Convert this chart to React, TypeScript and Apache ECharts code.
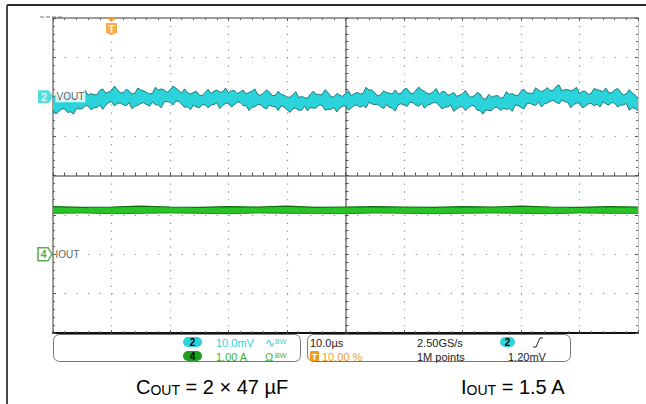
import React, { useEffect, useRef } from "react";
import * as echarts from "echarts";

// ---- Acquisition settings ----
const X_MIN_US = -10;
const X_MAX_US = 90;
const US_PER_DIV = 10;
const MV_PER_DIV = 10;
const A_PER_DIV = 1;
const Y_HALF_DIVS = 4;
const X_HALF_DIVS = 5;
const CH2_OFFSET_DIV = 2;
const CH4_OFFSET_DIV = -2;
const TRIGGER_US = 0;

// ---- VOUT (ch2) noise envelope, mV relative to ch2 ground marker, sampled every 0.5 µs from -10 µs ----
const V_START_US = -10;
const V_STEP_US = 0.5;
const voutUpperMv = [
  -0.1, 0.3, -0.6, -0.7, 0.2, 0.9, -0.3, -0.3, -0.5, -0.3,
  0.5, 1.6, 0.4, 0.8, 0.5, 0.5, 1.6, 2.0, 0.9, 1.2,
  1.5, 2.7, 1.8, 1.0, 1.0, 1.9, 1.5, 0.7, 0.9, 2.2,
  1.7, 1.5, 1.1, 0.7, 0.9, 2.4, 1.7, 2.0, 1.7, 1.1,
  1.7, 2.7, 2.2, 1.6, 0.9, 2.0, 1.0, 0.7, 1.1, 1.4,
  0.4, 0.3, 1.1, 1.9, 0.8, 1.4, 1.7, 1.2, 1.2, 2.2,
  1.0, 1.6, 1.6, 0.8, 1.2, 1.7, 0.7, 1.1, 1.4, 2.0,
  0.5, 0.4, 1.0, 1.7, 1.2, 0.3, 0.3, 1.4, 0.6, 0.4,
  -0.1, -0.1, 0.5, 1.3, -0.2, 0.1, -0.2, -0.4, 0.7, 1.4,
  0.6, 0.6, 0.5, 1.8, 1.1, 0.1, -0.1, 0.8, 0.4, 0.1,
  0.8, 1.5, 0.3, 0.8, 1.1, 0.7, 0.8, 2.4, 1.7, 1.7,
  1.0, 0.2, 0.5, 1.5, 1.1, 0.9, 0.7, 1.7, 0.7, 0.9,
  1.9, 2.1, 1.0, 0.8, 1.5, 2.5, 1.7, 1.4, 0.8, 0.8,
  1.3, 2.1, 0.6, 1.3, 1.3, 0.4, 0.6, 1.1, 0.1, 0.4,
  0.7, 1.6, 0.4, -0.1, 0.2, 1.1, 0.7, -0.5, -0.6, 0.6,
  -0.1, 0.2, 0.3, -0.3, -0.2, 1.3, 0.6, 0.8, 0.4, 0.3,
  1.4, 1.9, 1.0, 0.9, 0.8, 2.3, 1.7, 1.3, 1.7, 2.3,
  1.6, 1.6, 2.6, 3.0, 1.5, 1.8, 1.8, 1.5, 1.8, 2.4,
  0.8, 1.4, 1.4, 0.6, 0.9, 2.1, 1.8, 1.6, 1.3, 2.2,
  1.0, 1.0, 1.7, 2.1, 1.2, 0.5, 0.7, 1.8, 1.0, 0.4,
  -0.4,
];
const voutLowerMv = [
  -3.4, -4.4, -3.7, -3.1, -3.1, -4.0, -3.8, -4.4, -3.0, -3.1,
  -3.0, -2.3, -2.3, -3.3, -2.8, -2.7, -2.1, -3.2, -2.1, -1.5,
  -1.2, -2.3, -1.7, -1.6, -2.0, -2.3, -1.5, -3.0, -2.4, -2.2,
  -1.7, -1.5, -2.0, -2.4, -1.4, -2.0, -2.1, -2.8, -1.3, -1.2,
  -1.4, -2.1, -1.1, -1.2, -1.9, -2.7, -2.5, -3.3, -2.1, -2.6,
  -2.8, -2.0, -2.0, -2.8, -2.1, -2.0, -1.5, -3.0, -2.2, -1.7,
  -1.6, -2.6, -2.0, -1.4, -1.4, -2.3, -2.2, -3.5, -2.7, -2.5,
  -2.0, -2.0, -2.7, -3.1, -2.1, -2.5, -2.5, -3.5, -2.3, -2.6,
  -3.3, -4.0, -3.0, -2.9, -3.4, -3.4, -2.4, -3.6, -2.7, -2.9,
  -2.8, -2.1, -2.1, -3.4, -3.2, -3.2, -2.7, -3.9, -2.9, -2.4,
  -2.3, -3.4, -2.8, -2.2, -2.1, -2.7, -2.2, -2.8, -1.4, -1.8,
  -2.0, -1.9, -2.5, -3.0, -2.0, -2.7, -2.9, -3.6, -2.0, -1.8,
  -2.0, -2.5, -1.4, -1.5, -2.1, -2.4, -1.7, -2.9, -2.1, -1.9,
  -1.5, -1.5, -2.2, -3.1, -2.6, -2.6, -2.1, -3.7, -3.1, -2.6,
  -2.5, -3.5, -2.8, -2.3, -2.3, -3.4, -3.5, -4.4, -3.3, -3.5,
  -3.5, -2.7, -2.7, -3.5, -2.9, -3.2, -3.0, -3.7, -2.1, -2.2,
  -2.7, -3.1, -1.8, -1.6, -2.0, -2.2, -1.3, -2.6, -1.8, -1.6,
  -1.2, -0.9, -1.4, -1.8, -0.8, -1.3, -1.4, -2.8, -2.0, -1.6,
  -1.6, -2.8, -2.4, -1.8, -1.7, -2.3, -1.9, -2.6, -1.3, -1.8,
  -2.1, -1.5, -1.6, -2.6, -2.1, -2.1, -1.7, -3.4, -2.8, -3.0,
  -3.5,
];

// ---- IOUT (ch4) envelope, A relative to ch4 ground marker, sampled every 5 µs from -10 µs ----
const I_START_US = -10;
const I_STEP_US = 5;
const ioutUpperA = [1.21, 1.19, 1.2, 1.22, 1.2, 1.19, 1.21, 1.2, 1.22, 1.19, 1.2, 1.21, 1.2, 1.19, 1.21, 1.2, 1.22, 1.2, 1.19, 1.21, 1.2];
const ioutLowerA = [1.04, 1.05, 1.03, 1.04, 1.05, 1.04, 1.03, 1.05, 1.04, 1.04, 1.03, 1.05, 1.04, 1.03, 1.04, 1.05, 1.04, 1.03, 1.05, 1.04, 1.04];

// ---- Readout texts ----
const ch2Label = "VOUT";
const ch4Label = "IOUT";
const ch2Scale = "10.0mV";
const ch4Scale = "1.00 A";
const timebase = "10.0µs";
const triggerPos = "10.00 %";
const sampleRate = "2.50GS/s";
const recordLength = "1M points";
const triggerLevel = "1.20mV";
const captionLeft = ["C", "OUT", " = 2 × 47 µF"];
const captionRight = ["I", "OUT", " = 1.5 A"];

const FONT = "'Liberation Sans', Arial, sans-serif";
const CYAN = "#2bd4da";
const CYAN_DARK = "#0f6d72";
const GREEN = "#27c427";
const GREEN_DARK = "#0f6a0f";
const ORANGE = "#f39c1f";

function bandSeries(name: string, xs: number[], up: number[], lo: number[], fill: string): any {
  return {
    name,
    type: "custom",
    xAxisIndex: 0,
    yAxisIndex: 0,
    silent: true,
    z: 3,
    data: xs.map((t, i) => [t, up[i], lo[i]]),
    encode: { x: 0, y: [1, 2] },
    renderItem: (params: any, api: any) => {
      if (params.dataIndex !== 0) return null;
      const top = xs.map((t, i) => api.coord([t, up[i]]));
      const bottom = xs.map((t, i) => api.coord([t, lo[i]])).reverse();
      return {
        type: "polygon",
        shape: { points: top.concat(bottom) },
        style: { fill, stroke: "none" },
      };
    },
  };
}

function edgeSeries(name: string, xs: number[], ys: number[], color: string, width: number): any {
  return {
    name,
    type: "line",
    xAxisIndex: 0,
    yAxisIndex: 0,
    data: xs.map((t, i) => [t, ys[i]]),
    symbol: "none",
    silent: true,
    z: 4,
    lineStyle: { color, width },
  };
}

function buildOption(): any {
  const vx = voutUpperMv.map((_, i) => V_START_US + i * V_STEP_US);
  const vUp = voutUpperMv.map((v) => CH2_OFFSET_DIV + v / MV_PER_DIV);
  const vLo = voutLowerMv.map((v) => CH2_OFFSET_DIV + v / MV_PER_DIV);
  const ix = ioutUpperA.map((_, i) => I_START_US + i * I_STEP_US);
  const iUp = ioutUpperA.map((v) => CH4_OFFSET_DIV + v / A_PER_DIV);
  const iLo = ioutLowerA.map((v) => CH4_OFFSET_DIV + v / A_PER_DIV);

  const edgeTick = { show: true, inside: true, length: 3, lineStyle: { color: "#555", width: 1 } };
  const edgeMinor = { show: true, splitNumber: 5, length: 2, lineStyle: { color: "#666", width: 1 } };

  const txt = (x: number, y: number, text: string, fill: string, extra: any = {}) => ({
    type: "text",
    x,
    y,
    z: 20,
    style: { text, fill, font: `11px ${FONT}`, align: "left", verticalAlign: "middle", ...extra },
  });
  const pill = (x: number, y: number, w: number, label: string, fill: string): any[] => [
    { type: "rect", z: 20, shape: { x, y, width: w, height: 10, r: 5 }, style: { fill } },
    {
      type: "text",
      z: 21,
      x: x + w / 2,
      y: y + 5.5,
      style: { text: label, fill: "#000", font: `bold 10px ${FONT}`, align: "center", verticalAlign: "middle" },
    },
  ];
  const caption = (x: number, parts: string[]) => ({
    type: "text",
    x,
    y: 386,
    z: 20,
    style: {
      text: `{m|${parts[0]}}{s|${parts[1]}}{m|${parts[2]}}`,
      align: "left",
      verticalAlign: "middle",
      rich: {
        m: { fontSize: 20, fontFamily: FONT, fill: "#000", lineHeight: 22, verticalAlign: "bottom" },
        s: { fontSize: 14, fontFamily: FONT, fill: "#000", lineHeight: 16, verticalAlign: "bottom" },
      },
    },
  });

  return {
    animation: false,
    backgroundColor: "#fff",
    grid: { left: 53, top: 18, width: 585, height: 315, show: false },
    xAxis: [
      {
        type: "value",
        min: X_MIN_US,
        max: X_MAX_US,
        interval: US_PER_DIV,
        position: "bottom",
        axisLine: { show: true, onZero: false, lineStyle: { color: "#111", width: 2 } },
        axisTick: edgeTick,
        minorTick: edgeMinor,
        axisLabel: { show: false },
        splitLine: { show: true, lineStyle: { color: "#8c8c8c", width: 1.2, type: [1.2, 6.675] } },
      },
      {
        type: "value",
        min: -X_HALF_DIVS,
        max: X_HALF_DIVS,
        interval: 1,
        position: "top",
        axisLine: { show: true, onZero: false, lineStyle: { color: "#9a9a9a", width: 2 } },
        axisTick: edgeTick,
        minorTick: edgeMinor,
        axisLabel: { show: false },
        splitLine: { show: false },
      },
      {
        type: "value",
        min: -X_HALF_DIVS,
        max: X_HALF_DIVS,
        interval: 1,
        position: "bottom",
        axisLine: { show: true, onZero: true, onZeroAxisIndex: 0, lineStyle: { color: "#7a7a7a", width: 1.5 } },
        axisTick: { show: true, inside: true, length: 3, lineStyle: { color: "#444" } },
        minorTick: { show: true, splitNumber: 5, length: 3, lineStyle: { color: "#555" } },
        axisLabel: { show: false },
        splitLine: { show: false },
      },
    ],
    yAxis: [
      {
        type: "value",
        min: -Y_HALF_DIVS,
        max: Y_HALF_DIVS,
        interval: 1,
        position: "left",
        axisLine: { show: true, onZero: false, lineStyle: { color: "#9a9a9a", width: 2 } },
        axisTick: edgeTick,
        minorTick: edgeMinor,
        axisLabel: { show: false },
        splitLine: { show: true, lineStyle: { color: "#8c8c8c", width: 1.2, type: [1.2, 10.5] } },
      },
      {
        type: "value",
        min: -Y_HALF_DIVS,
        max: Y_HALF_DIVS,
        interval: 1,
        position: "right",
        axisLine: { show: true, onZero: false, lineStyle: { color: "#c8c8c8", width: 1 } },
        axisTick: edgeTick,
        minorTick: edgeMinor,
        axisLabel: { show: false },
        splitLine: { show: false },
      },
      {
        type: "value",
        min: -Y_HALF_DIVS,
        max: Y_HALF_DIVS,
        interval: 1,
        position: "left",
        axisLine: { show: true, onZero: true, onZeroAxisIndex: 1, lineStyle: { color: "#7a7a7a", width: 1.5 } },
        axisTick: { show: true, inside: true, length: 3, lineStyle: { color: "#444" } },
        minorTick: { show: true, splitNumber: 5, length: 3, lineStyle: { color: "#555" } },
        axisLabel: { show: false },
        splitLine: { show: false },
      },
    ],
    series: [
      bandSeries("VOUT", vx, vUp, vLo, CYAN),
      edgeSeries("VOUT upper", vx, vUp, CYAN_DARK, 0.9),
      edgeSeries("VOUT lower", vx, vLo, CYAN_DARK, 0.9),
      bandSeries("IOUT", ix, iUp, iLo, GREEN),
      edgeSeries("IOUT upper", ix, iUp, GREEN_DARK, 1.2),
      edgeSeries("IOUT lower", ix, iLo, "#1d8f1d", 1),
      {
        name: "markers",
        type: "scatter",
        xAxisIndex: 0,
        yAxisIndex: 0,
        clip: false,
        silent: true,
        z: 10,
        data: [
          {
            value: [X_MIN_US, CH2_OFFSET_DIV],
            symbol: "path://M0,0 L10,0 L14,6.5 L10,13 L0,13 Z",
            symbolSize: [15, 13],
            symbolOffset: [-7.5, 0],
            itemStyle: { color: CYAN },
            label: { show: true, position: "inside", formatter: "2", color: "#fff", fontSize: 11, fontWeight: "bold", fontFamily: FONT, offset: [-1.5, 0] },
          },
          {
            value: [X_MIN_US, CH2_OFFSET_DIV],
            symbol: "rect",
            symbolSize: 1,
            itemStyle: { color: "rgba(0,0,0,0)" },
            label: { show: true, position: "right", distance: 2, formatter: ch2Label, color: "#333", fontSize: 10, fontFamily: FONT, backgroundColor: "#fff", padding: [1, 1, 0, 1] },
          },
          {
            value: [X_MIN_US, CH4_OFFSET_DIV],
            symbol: "path://M0,0 L10,0 L14,6.5 L10,13 L0,13 Z",
            symbolSize: [14, 13],
            symbolOffset: [-8, 0],
            itemStyle: { color: "#fff", borderColor: "#2a9d2a", borderWidth: 1.5 },
            label: { show: true, position: "inside", formatter: "4", color: "#1f9a1f", fontSize: 11, fontWeight: "bold", fontFamily: FONT, offset: [-1.5, 0] },
          },
          {
            value: [X_MIN_US, CH4_OFFSET_DIV],
            symbol: "rect",
            symbolSize: 1,
            itemStyle: { color: "rgba(0,0,0,0)" },
            label: { show: true, position: "right", distance: 2, formatter: ch4Label, color: "#333", fontSize: 10, fontFamily: FONT },
          },
          {
            value: [TRIGGER_US, Y_HALF_DIVS],
            symbol: "path://M0,0 L10,0 L5,4 Z M0,5 L10,5 L10,15 L5,17 L0,15 Z",
            symbolSize: [11, 17],
            symbolOffset: [0, 8.5],
            itemStyle: { color: ORANGE },
            label: { show: true, position: "inside", formatter: "T", color: "#fff", fontSize: 10, fontWeight: "bold", fontFamily: FONT, offset: [0, 2.5] },
          },
        ],
      },
    ],
    graphic: [
      { type: "line", z: 20, shape: { x1: 7, y1: 5, x2: 646, y2: 5 }, style: { stroke: "#2a2a2a", lineWidth: 2 } },
      { type: "line", z: 20, shape: { x1: 7, y1: 5, x2: 7, y2: 404 }, style: { stroke: "#4a4a4a", lineWidth: 2 } },
      { type: "line", z: 20, shape: { x1: 40, y1: 17, x2: 62, y2: 17 }, style: { stroke: "#777", lineWidth: 1, lineDash: [4, 2] } },
      { type: "rect", z: 19, shape: { x: 53.5, y: 334.5, width: 247, height: 27, r: 6 }, style: { fill: "#fff", stroke: "#777", lineWidth: 1 } },
      { type: "rect", z: 19, shape: { x: 307.5, y: 334.5, width: 263, height: 27, r: 6 }, style: { fill: "#fff", stroke: "#777", lineWidth: 1 } },
      ...pill(183, 337, 19, "2", CYAN),
      txt(216, 342.5, ch2Scale, CYAN),
      txt(265, 342.5, "∿", CYAN, { font: `12px ${FONT}` }),
      txt(275, 341, "BW", CYAN, { font: `7px ${FONT}` }),
      ...pill(183, 351, 19, "4", "#1f9f1f"),
      txt(216, 356.5, ch4Scale, "#3bb33b"),
      txt(265, 356.5, "Ω", "#3bb33b", { font: `11px ${FONT}` }),
      txt(275, 355, "BW", "#3bb33b", { font: `7px ${FONT}` }),
      txt(310, 342.5, timebase, "#222"),
      { type: "rect", z: 20, shape: { x: 310, y: 351, width: 9, height: 10, r: 1 }, style: { fill: ORANGE } },
      { type: "text", z: 21, x: 314.5, y: 356.5, style: { text: "T", fill: "#fff", font: `bold 9px ${FONT}`, align: "center", verticalAlign: "middle" } },
      txt(322, 356.5, triggerPos, ORANGE),
      txt(417, 342.5, sampleRate, "#222"),
      txt(417, 356.5, recordLength, "#222"),
      ...pill(500, 337, 15, "2", CYAN),
      { type: "polyline", z: 20, shape: { points: [[533, 347], [536, 347], [540, 338], [543, 338]] }, style: { stroke: "#222", lineWidth: 1, fill: "none" } },
      txt(508, 356.5, triggerLevel, "#222"),
      caption(136, captionLeft),
      caption(461, captionRight),
    ],
  };
}

export default function App() {
  const ref = useRef<HTMLDivElement>(null);
  useEffect(() => {
    if (!ref.current) return;
    const chart = echarts.init(ref.current, null, { renderer: "svg" });
    chart.setOption(buildOption());
    return () => chart.dispose();
  }, []);
  return (
    <div
      ref={ref}
      style={{ position: "fixed", left: 0, top: 0, width: 646, height: 404, background: "#fff" }}
    />
  );
}
